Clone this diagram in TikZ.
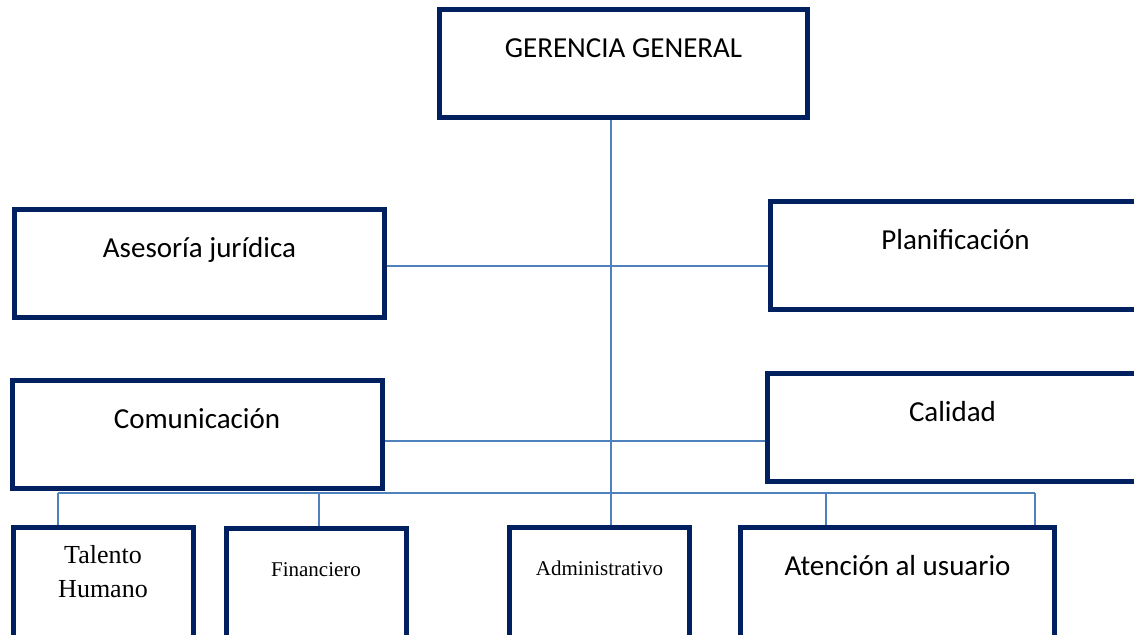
\documentclass[tikz,border=0pt]{standalone}
\usepackage{fontspec}
\usepackage{xcolor}
\usepackage{tikz}
\setmainfont{Liberation Serif}
\newfontfamily\calibri{Carlito}
\definecolor{boxnavy}{RGB}{0,32,96}
\definecolor{linkblue}{RGB}{79,129,189}
\tikzstyle{unit}=[fill=white, draw=boxnavy, line width=2.5pt, shape=rectangle, inner ysep=0pt, text height=24pt, text depth=30pt, font=\calibri\fontsize{14.5}{17}\selectfont]
\tikzstyle{wide unit}=[unit, minimum width=185pt]
\tikzstyle{low unit}=[unit, minimum width=90pt, text depth=36pt]
\tikzstyle{serif unit}=[low unit, font=\fontsize{10.5}{13}\selectfont]
\tikzstyle{link}=[-, draw=linkblue, line width=0.8pt]
\pgfdeclarelayer{nodelayer}
\pgfdeclarelayer{edgelayer}
\pgfsetlayers{edgelayer,nodelayer,main}

\begin{document}
\begin{tikzpicture}[x=0.5pt, y=-0.5pt]
        	\useasboundingbox (0, 0) rectangle (1134, 635);
        	\clip (0, 0) rectangle (1134, 635);
        	\begin{pgfonlayer}{nodelayer}
        		\node [style=unit, minimum width=184pt] (gerencia) at (623.5, 63.5) {GERENCIA GENERAL};
        		\node [style=wide unit] (asesoria) at (199.5, 264) {Asesoría jurídica};
        		\node [style=wide unit] (planificacion) at (955.5, 256) {Planificación};
        		\node [style=wide unit] (comunicacion) at (197, 434.5) {Comunicación};
        		\node [style=wide unit] (calidad) at (952.5, 428) {Calidad};
        		\node [style=serif unit, align=center, text height=35pt, text depth=25pt, font=\fontsize{13}{17}\selectfont] (talento) at (103, 587.5) {Talento\\Humano};
        		\node [style=serif unit] (financiero) at (316, 588.5) {Financiero};
        		\node [style=serif unit] (administrativo) at (599.5, 587.5) {Administrativo};
        		\node [style=low unit, minimum width=157pt] (atencion) at (897.5, 587.5) {Atención al usuario};
        		\coordinate (spine) at (611, 266);
        		\coordinate (spine2) at (611, 441);
        		\coordinate (bus) at (611, 493);
        	\end{pgfonlayer}
        	\begin{pgfonlayer}{edgelayer}
        		\draw [style=link] (spine |- gerencia.south) to (spine |- administrativo.north);
        		\draw [style=link] (asesoria.east |- spine) to (planificacion.west |- spine);
        		\draw [style=link] (comunicacion.east |- spine2) to (calidad.west |- spine2);
        		\draw [style=link] ([xshift=-22.5pt]talento.north |- bus) to ([xshift=68.75pt]atencion.north |- bus);
        		\draw [style=link] ([xshift=-22.5pt]talento.north) to ([xshift=-22.5pt]talento.north |- bus);
        		\draw [style=link] ([xshift=1.5pt]financiero.north) to ([xshift=1.5pt]financiero.north |- bus);
        		\draw [style=link] ([xshift=-35.75pt]atencion.north) to ([xshift=-35.75pt]atencion.north |- bus);
        		\draw [style=link] ([xshift=68.75pt]atencion.north) to ([xshift=68.75pt]atencion.north |- bus);
        	\end{pgfonlayer}
        \end{tikzpicture}
\end{document}
